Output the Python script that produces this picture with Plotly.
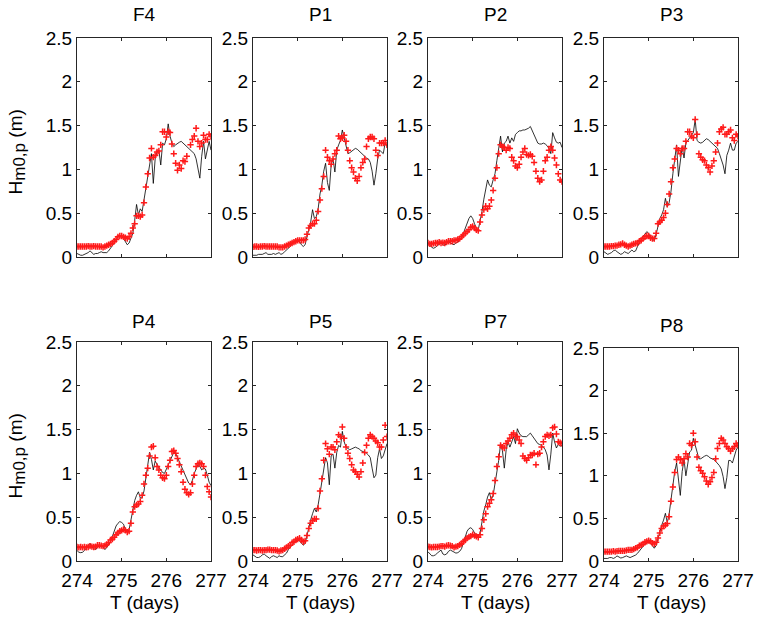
import plotly.graph_objects as go

# ---------------- data ----------------
STATIONS = ["F4", "P1", "P2", "P3", "P4", "P5", "P7", "P8"]
T_START = 274.0          # day of year at first sample
N_HOURS = 73             # hourly samples, 274.00 .. 277.00
X_TICKS = [274, 275, 276, 277]
Y_TICKS = [0, 0.5, 1, 1.5, 2, 2.5]
Y_TICK_TEXT = ["0", "0.5", "1", "1.5", "2", "2.5"]

# model (black line), hourly
model_F4 = [.04,.03,.02,.02,.03,.04,.05,.07,.05,.03, .04,.04,.05,.06,.05,.05,.05,.07,.10,.12,
            .15,.19,.24,.24,.24,.21,.17,.14,.16,.22, .27,.42,.60,.48,.55,.52,.65,.80,.92,1.05,
            1.18,0.84,1.12,1.20,1.22,1.05,1.30,1.28,1.35,1.52, 1.38,1.30,1.26,1.28,1.30,1.31,1.32,1.30,1.28,1.26,
            1.25,1.23,1.21,1.18,1.12,1.02,0.90,1.15,1.32,1.12, 1.22,1.32,1.22]
model_P1 = [.02,.02,.02,.03,.03,.03,.04,.05,.03,.03, .03,.04,.03,.04,.05,.03,.04,.06,.08,.09,
            .12,.15,.18,.19,.19,.18,.14,.12,.14,.23, .32,.40,.54,.44,.46,.55,.72,.82,.98,1.07,
            0.85,0.76,1.05,1.12,0.97,1.22,1.28,1.33,1.45,1.36, 1.28,1.18,1.19,1.21,1.23,1.24,1.23,1.21,1.18,1.16,
            1.14,1.13,1.12,1.08,0.98,0.82,0.95,1.12,1.22,1.20, 1.18,1.30,1.26]
model_P2 = [.16,.13,.11,.10,.11,.13,.15,.16,.14,.13, .16,.175,.16,.15,.14,.16,.17,.19,.21,.27,
            .33,.40,.44,.47,.44,.38,.33,.31,.40,.52, .66,.77,.88,.82,.80,.88,.95,1.10,1.27,1.38,
            1.20,1.30,1.32,1.38,1.30,1.36,1.32,1.40,1.42,1.44, 1.44,1.45,1.45,1.46,1.47,1.49,1.44,1.39,1.34,1.30,
            1.29,1.29,1.30,1.29,1.27,1.24,1.18,1.42,1.36,1.31, 1.30,1.31,1.25]
model_P3 = [.06,.04,.03,.04,.05,.07,.08,.06,.04,.03, .04,.06,.05,.04,.06,.08,.06,.07,.12,.16,
            .20,.24,.26,.29,.27,.22,.20,.19,.26,.36, .44,.48,.54,.67,.57,.62,.75,.95,1.12,1.28,
            0.92,1.12,1.26,1.13,1.30,1.33,1.36,1.39,1.42,1.57, 1.33,1.31,1.30,1.31,1.33,1.35,1.34,1.32,1.30,1.28,
            1.26,1.24,1.18,1.12,1.05,0.95,1.16,1.22,1.30,1.22, 1.22,1.30,1.32]
model_P4 = [.12,.10,.095,.10,.12,.145,.18,.20,.155,.14, .13,.16,.17,.17,.16,.13,.15,.18,.22,.28,
            .34,.40,.43,.45,.44,.42,.36,.33,.36,.48, .60,.69,.75,.79,.72,.72,.80,.95,1.10,1.24,
            1.16,1.04,1.14,1.10,1.07,1.04,1.01,1.00,1.05,1.10, 1.15,1.21,1.24,1.23,1.18,1.14,1.10,1.03,0.98,0.93,
            0.89,0.87,0.92,1.00,1.06,1.10,1.08,1.04,1.06,1.05, 0.98,0.90,0.86]
model_P5 = [.07,.05,.04,.04,.05,.07,.08,.06,.04,.03, .05,.06,.05,.04,.06,.05,.05,.07,.09,.13,
            .16,.19,.21,.23,.24,.23,.21,.18,.20,.30, .40,.47,.54,.60,.56,.64,.77,.92,1.06,1.18,
            1.12,0.87,1.20,1.22,1.06,1.24,1.32,1.30,1.48,1.36, 1.30,1.28,1.27,1.28,1.29,1.30,1.29,1.28,1.26,1.25,
            1.24,1.23,1.21,1.18,1.06,0.95,0.98,1.18,1.28,1.17, 1.20,1.26,1.34]
model_P7 = [.105,.08,.06,.06,.07,.09,.11,.125,.08,.07, .08,.11,.125,.11,.095,.09,.095,.11,.14,.21,
            .29,.34,.37,.38,.36,.32,.30,.28,.32,.46, .57,.64,.73,.78,.70,.75,.88,1.04,1.15,1.34,
            1.26,1.06,1.27,1.36,1.30,1.36,1.42,1.34,1.51,1.46, 1.43,1.42,1.42,1.42,1.44,1.46,1.43,1.40,1.37,1.34,
            1.33,1.32,1.30,1.27,1.21,1.04,1.22,1.46,1.36,1.29, 1.33,1.31,1.32]
model_P8 = [.03,.03,.03,.04,.04,.03,.04,.06,.05,.035, .04,.05,.06,.05,.04,.05,.06,.07,.09,.12,
            .15,.18,.20,.21,.22,.21,.18,.15,.18,.27, .36,.42,.48,.56,.45,.55,.72,.90,1.05,1.15,
            0.93,0.77,1.05,1.19,1.00,1.17,1.28,1.30,1.44,1.36, 1.28,1.20,1.20,1.22,1.23,1.24,1.23,1.21,1.20,1.19,
            1.17,1.15,1.12,1.08,0.99,0.85,0.98,1.18,1.18,1.15, 1.24,1.30,1.34]

# observations (red markers), hourly
obs_F4 = [.12,.12,.12,.12,.12,.12,.125,.12,.12,.125, .12,.12,.12,.12,.11,.12,.13,.14,.15,.16,
          .18,.20,.23,.24,.24,.23,.22,.21,.23,.27, .33,.38,.47,.47,.46,.48,.62,.80,.95,1.13,
          1.24,1.14,1.16,1.20,1.21,1.28,1.43,1.43,1.37,1.43, 1.42,1.29,1.18,1.07,0.99,1.05,1.01,1.10,1.09,1.15,
          None,1.28,1.34,1.38,1.47,1.32,1.26,1.30,1.39,1.34, 1.34,1.40,1.38]
obs_P1 = [.115,.12,.12,.115,.12,.12,.125,.12,.12,.12, .12,.12,.12,.12,.11,.11,.11,.12,.13,.14,
          .15,.16,.17,.18,.19,.19,.19,.19,.20,.26, .33,.36,.38,.38,.42,.52,.65,.78,.92,1.22,
          1.14,1.10,1.06,1.12,1.18,1.22,1.38,1.35,1.36,1.39, 1.32,1.22,1.10,1.02,0.97,0.90,0.87,0.92,1.02,1.08,
          1.12,1.26,1.35,1.37,1.37,1.35,1.22,1.16,1.30,1.30, 1.30,1.33,1.28]
obs_P2 = [.16,.15,.15,.155,.16,.16,.17,.16,.165,.16, .17,.18,.18,.18,.19,.19,.20,.21,.23,.25,
          .27,.29,.31,.34,.35,.33,.31,.30,.40,.48, .54,.58,.55,.58,.65,.76,.90,1.02,1.18,1.28,
          1.26,1.25,1.22,1.25,1.24,1.14,1.10,1.04,1.02,1.06, 1.14,1.20,1.24,1.17,1.16,1.17,1.15,1.08,0.98,0.90,
          0.86,0.88,0.98,1.10,1.14,1.22,1.26,1.22,1.13,1.05, 0.95,0.88,0.86]
obs_P3 = [.12,.12,.12,.12,.125,.125,.13,.13,.14,.145, .155,.14,.13,.12,.13,.14,.15,.155,.16,.18,
          .19,.21,.23,.24,.24,.22,.21,.21,.27,.38, .40,.42,.45,.50,.60,.72,.86,1.02,1.12,1.24,
          1.22,1.18,1.24,1.24,1.32,1.43,1.43,1.38,1.36,1.57, 1.40,1.18,1.14,1.11,1.10,1.05,1.02,0.97,1.04,1.10,
          1.20,1.30,1.43,1.46,1.48,1.40,1.40,1.43,1.45,1.36, 1.33,1.40,1.38]
obs_P4 = [.16,.155,.16,.155,.16,.155,.16,.17,.165,.16, .165,.18,.18,.175,.17,.175,.19,.21,.24,.25,
          .27,.30,.32,.34,.35,.36,.35,.33,.34,.43, .56,.62,.64,.65,.68,.75,.88,.98,1.06,1.20,
          1.30,1.31,1.18,1.08,1.04,0.98,0.95,0.94,0.98,1.08, 1.15,1.25,1.26,1.23,1.17,1.10,1.02,0.90,0.82,0.78,
          0.76,0.78,0.88,0.98,1.08,1.11,1.12,1.11,1.08,0.98, 0.85,0.79,0.73]
obs_P5 = [.125,.125,.12,.125,.125,.12,.125,.125,.13,.13, .125,.125,.125,.12,.11,.12,.125,.14,.155,.17,
          .18,.21,.22,.24,.25,.26,.24,.22,.23,.29, .37,.43,.46,.48,.48,.60,.80,.94,1.15,1.34,
          1.28,1.22,1.30,1.30,1.27,1.36,1.44,1.42,1.53,1.40, 1.30,1.23,1.17,1.10,1.04,1.02,0.99,0.96,1.02,1.12,
          1.24,1.32,1.40,1.44,1.42,1.40,1.37,1.35,1.30,1.30, 1.38,1.55,1.42]
obs_P7 = [.165,.16,.155,.16,.16,.16,.165,.17,.17,.165, .175,.18,.175,.17,.155,.165,.17,.185,.20,.22,
          .24,.26,.275,.285,.30,.29,.28,.27,.30,.37, .47,.54,.62,.66,.70,.77,.92,1.08,1.19,1.32,
          1.30,1.29,1.34,1.37,1.40,1.44,1.46,1.42,1.42,1.38, 1.34,1.20,1.17,1.15,1.18,1.21,1.21,1.23,1.10,1.22,
          1.23,1.30,1.36,1.42,1.44,1.43,1.44,1.52,1.53,1.45, 1.36,1.35,1.34]
obs_P8 = [.11,.11,.11,.11,.11,.115,.11,.115,.12,.12, .12,.12,.125,.13,.13,.13,.14,.15,.16,.18,
          .19,.20,.22,.23,.24,.23,.21,.20,.22,.27, .33,.38,.41,.42,.44,.52,.70,.87,1.04,1.19,
          1.22,1.19,1.15,1.20,1.26,1.22,1.38,1.36,1.50,1.40, 1.22,1.10,1.06,1.03,0.99,0.94,0.90,0.93,0.98,1.04,
          1.20,1.32,1.38,1.44,1.42,1.38,1.34,1.32,1.29,1.32, 1.34,1.38,1.36]

MODEL = [model_F4, model_P1, model_P2, model_P3, model_P4, model_P5, model_P7, model_P8]
OBS = [obs_F4, obs_P1, obs_P2, obs_P3, obs_P4, obs_P5, obs_P7, obs_P8]

T = [T_START + h / 24.0 for h in range(N_HOURS)]

# ---------------- layout ----------------
W, H = 757, 621
COLS = [(77, 211), (253, 387), (428, 562), (604, 738)]
ROWS = [(38, 257), (342, 561)]
P8_TOP = 348
FONT = "Liberation Sans, Arial, Helvetica, sans-serif"
FS = 19
AX_COLOR = "#262626"
RED = "#ff1a1a"

fig = go.Figure()
layout = dict(width=W, height=H, margin=dict(l=0, r=0, t=0, b=0),
              paper_bgcolor="white", plot_bgcolor="white", showlegend=False,
              font=dict(family=FONT, size=FS, color="black"))
annotations = []

for i, name in enumerate(STATIONS):
    r, c = divmod(i, 4)
    x0, x1 = COLS[c]
    y0, y1 = ROWS[r]
    if name == "P8":
        y0 = P8_TOP
    k = "" if i == 0 else str(i + 1)
    xa, ya = "x" + k, "y" + k

    fig.add_trace(go.Scatter(x=T, y=MODEL[i], mode="lines", xaxis=xa, yaxis=ya,
                             line=dict(color="black", width=0.8), hoverinfo="skip"))
    ox = [t for t, v in zip(T, OBS[i]) if v is not None]
    oy = [v for v in OBS[i] if v is not None]
    fig.add_trace(go.Scatter(x=ox, y=oy, mode="markers", xaxis=xa, yaxis=ya,
                             marker=dict(symbol="cross-thin-open", size=4.5, color=RED,
                                         line=dict(color=RED, width=1.5))))

    common = dict(showline=True, linecolor=AX_COLOR, linewidth=1, mirror="ticks",
                  ticks="inside", ticklen=3, tickcolor=AX_COLOR, tickwidth=1,
                  showgrid=False, zeroline=False, automargin=False,
                  tickfont=dict(family=FONT, size=FS, color="black"))
    xax = dict(common, domain=[x0 / W, x1 / W], anchor=ya,
               range=[274, 277], tickvals=X_TICKS, ticklabelstandoff=2)
    if r == 1:
        xax["ticktext"] = [str(v) for v in X_TICKS]
    else:
        xax["showticklabels"] = False
    layout["xaxis" + k] = xax
    layout["yaxis" + k] = dict(common, domain=[1 - y1 / H, 1 - y0 / H], anchor=xa,
                               range=[0, 2.5], tickvals=Y_TICKS, ticktext=Y_TICK_TEXT)

    title_y = {0: 15, 1: 321}[r] if name != "P8" else 325
    annotations.append(dict(text=name, x=(x0 + x1) / 2 / W, y=1 - title_y / H,
                            xref="paper", yref="paper", xanchor="center", yanchor="middle",
                            showarrow=False, font=dict(family=FONT, size=FS, color="black")))
    if r == 1:
        annotations.append(dict(text="T (days)", x=(x0 + x1) / 2 / W, y=1 - 602 / H,
                                xref="paper", yref="paper", xanchor="center", yanchor="middle",
                                showarrow=False, font=dict(family=FONT, size=FS, color="black")))
    if c == 0:
        annotations.append(dict(text="H<sub><span style='font-size:17px'>m0,p</span></sub> (m)",
                                x=17 / W, y=1 - ((y0 + y1) / 2 + 5) / H,
                                xref="paper", yref="paper", xanchor="center", yanchor="middle",
                                textangle=-90, showarrow=False,
                                font=dict(family=FONT, size=FS, color="black")))

layout["annotations"] = annotations
fig.update_layout(**layout)

fig.write_html("out.html", config={"displayModeBar": False},
               post_script="document.body.style.margin='0';document.body.style.overflow='hidden';")
